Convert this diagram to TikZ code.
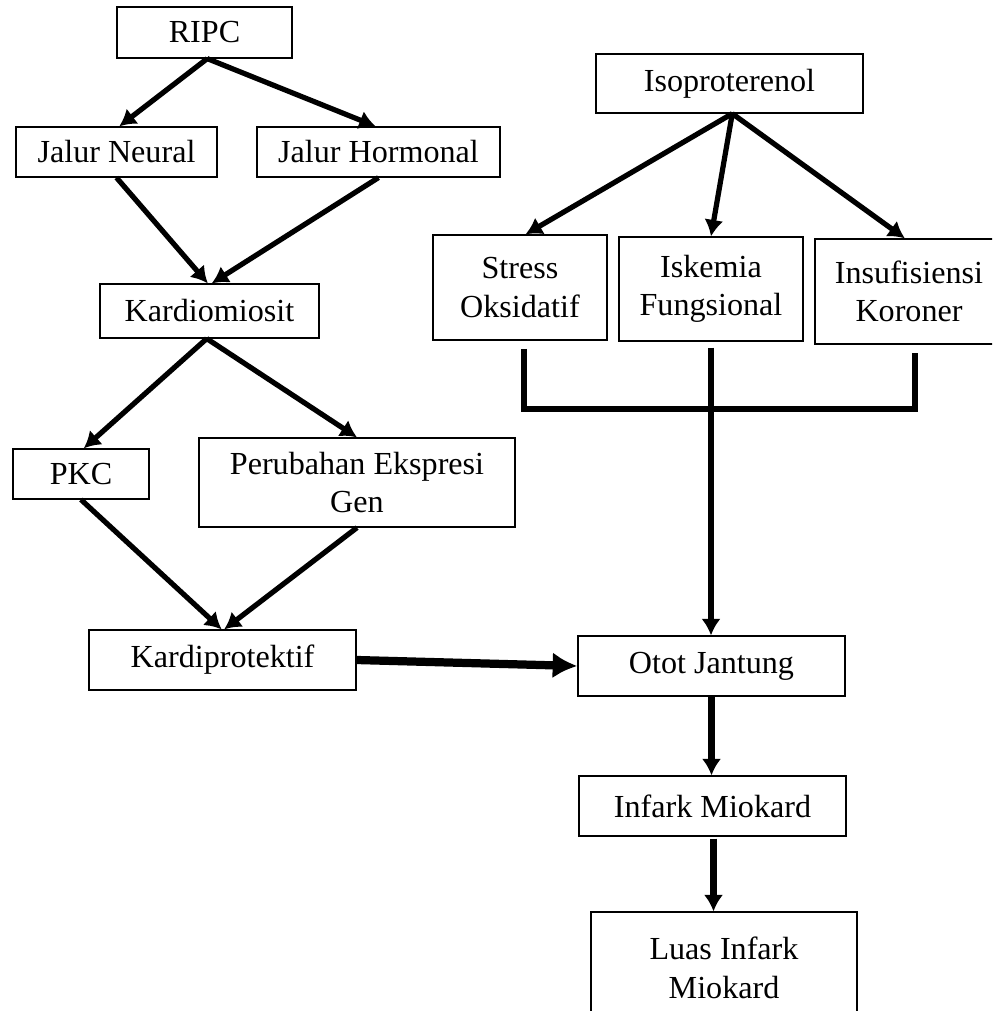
\documentclass[tikz,border=0pt]{standalone}
\usepackage{fontspec}
\setmainfont{Liberation Serif}
\usetikzlibrary{arrows.meta,calc}
\newcommand{\px}{0.0128cm}
\tikzset{
	box/.style={draw, line width=0.45pt, inner sep=0pt, align=center, font=\fontsize{11.7}{14}\selectfont},
	arr/.style={line width=1.9pt, -{Latex[length=6pt,width=7pt]}},
	thickarr/.style={line width=2.3pt, -{Latex[length=6pt,width=7pt]}},
	bigarr/.style={line width=3pt, -{Latex[length=9pt,width=9.5pt]}},
	bar/.style={line width=2pt}
}
\begin{document}
\begin{tikzpicture}[x=\px, y=-\px]
	\useasboundingbox (0,0) rectangle (992,1011);
	\clip (0,0) rectangle (992,1011);
	% left branch
	\node[box, minimum width=175*\px, minimum height=51*\px] (ripc) at (204.5,32.5) {RIPC};
	\node[box, minimum width=201*\px, minimum height=50*\px] (neural) at (116.5,152) {Jalur Neural};
	\node[box, minimum width=243*\px, minimum height=50*\px] (hormonal) at (378.5,152) {Jalur Hormonal};
	\node[box, minimum width=219*\px, minimum height=54*\px] (kardio) at (209.5,311) {Kardiomiosit};
	\node[box, minimum width=136*\px, minimum height=50*\px] (pkc) at (81,474) {PKC};
	\node[box, minimum width=316*\px, minimum height=89*\px] (gen) at (357,482.5) {Perubahan Ekspresi\\Gen};
	\node[box, minimum width=267*\px, minimum height=60*\px] (protektif) at (222.5,660) {Kardiprotektif};
	% right branch
	\node[box, minimum width=267*\px, minimum height=59*\px] (iso) at (729.5,83.5) {Isoproterenol};
	\node[box, minimum width=174*\px, minimum height=105*\px] (stress) at (520,287.5) {Stress\\Oksidatif};
	\node[box, minimum width=184*\px, minimum height=104*\px] (iskemia) at (711,289) {Iskemia\\Fungsional};
	\node[box, minimum width=188*\px, minimum height=105*\px] (koroner) at (909,291.5) {Insufisiensi\\Koroner};
	\node[box, minimum width=267*\px, minimum height=60*\px] (otot) at (711.5,666) {Otot Jantung};
	\node[box, minimum width=267*\px, minimum height=60*\px] (infark) at (712.5,806) {Infark Miokard};
	\node[box, minimum width=266*\px, minimum height=112*\px] (luas) at (724,968) {Luas Infark\\Miokard};
	% bracket
	\coordinate (sb) at (524,349);
	\coordinate (sl) at (524,409);
	\coordinate (kb) at (915,353);
	\coordinate (kl) at (915,409);
	\draw[bar] (sb) -- (sl) -- (kl) -- (kb);
	% arrows
	\draw[arr] ([xshift=1pt]ripc.south) -- ([xshift=1pt]neural.north);
	\draw[arr] ([xshift=1pt]ripc.south) -- ([xshift=-1pt]hormonal.north);
	\draw[arr] (neural.south) -- ([xshift=-0.6pt]kardio.north);
	\draw[arr] (hormonal.south) -- ([xshift=0.8pt]kardio.north);
	\draw[arr] ([xshift=-1pt]kardio.south) -- ([xshift=1pt]pkc.north);
	\draw[arr] ([xshift=-1pt]kardio.south) -- (gen.north);
	\draw[arr] (pkc.south) -- ([xshift=-0.3pt]protektif.north);
	\draw[arr] (gen.south) -- ([xshift=0.6pt]protektif.north);
	\draw[arr] ([xshift=1pt]iso.south) -- ([xshift=2pt]stress.north);
	\draw[arr] ([xshift=1pt]iso.south) -- (iskemia.north);
	\draw[arr] ([xshift=1pt]iso.south) -- ([xshift=-1.5pt]koroner.north);
	\draw[arr, line width=2pt] ($(iskemia.south)+(0,6)$) -- (iskemia.south |- otot.north);
	\draw[bigarr] (protektif.east) -- (otot.west);
	\draw[thickarr] (otot.south) -- (otot.south |- infark.north);
	\draw[thickarr] ($(infark.south)+(1,2)$) -- ($(infark.south |- luas.north)+(1,0)$);
\end{tikzpicture}
\end{document}
